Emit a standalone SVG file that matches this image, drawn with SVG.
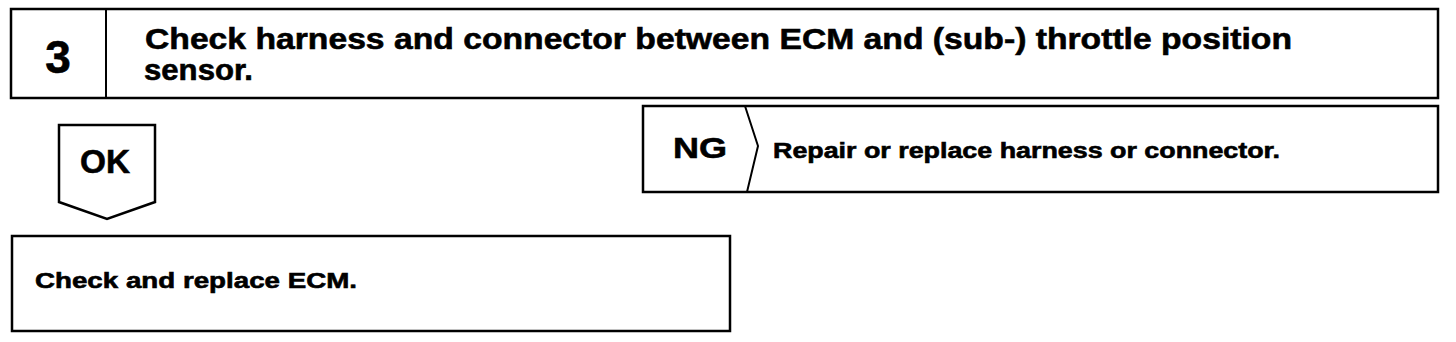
<svg xmlns="http://www.w3.org/2000/svg" width="1456" height="342" viewBox="0 0 1456 342">
<style>
.b{fill:#fff;stroke:#000;stroke-width:2.5;stroke-linejoin:miter}
.t{font-family:"Liberation Sans",Arial,sans-serif;font-weight:bold;fill:#000;stroke:#000;stroke-width:0.6}
</style>
<rect width="1456" height="342" fill="#fff"/>
<g id="header">
<rect class="b" x="11" y="9" width="1427" height="89"/>
<line x1="106" y1="9" x2="106" y2="98" stroke="#000" stroke-width="2"/>
<text class="t" x="58" y="73" font-size="46" text-anchor="middle">3</text>
<text class="t" x="145" y="49" font-size="30" textLength="1147" lengthAdjust="spacingAndGlyphs">Check harness and connector between ECM and (sub-) throttle position</text>
<text class="t" x="144" y="80" font-size="30" textLength="109" lengthAdjust="spacingAndGlyphs">sensor.</text>
</g>
<g id="ng">
<rect class="b" x="643" y="106" width="795" height="86"/>
<polyline points="745,106 758,146 747,192" fill="none" stroke="#000" stroke-width="2"/>
<text class="t" x="673" y="158" font-size="30" textLength="54" lengthAdjust="spacingAndGlyphs">NG</text>
<text class="t" x="773" y="158" font-size="22" textLength="507" lengthAdjust="spacingAndGlyphs">Repair or replace harness or connector.</text>
</g>
<g id="ok">
<polygon class="b" points="59,125 155,125 155,202 107,219 59,202"/>
<text class="t" x="80" y="173" font-size="33" textLength="50" lengthAdjust="spacingAndGlyphs">OK</text>
</g>
<g id="ecm">
<rect class="b" x="12" y="236" width="718" height="95"/>
<text class="t" x="35" y="288" font-size="22" textLength="322" lengthAdjust="spacingAndGlyphs">Check and replace ECM.</text>
</g>
<g id="connectors"></g>
</svg>
